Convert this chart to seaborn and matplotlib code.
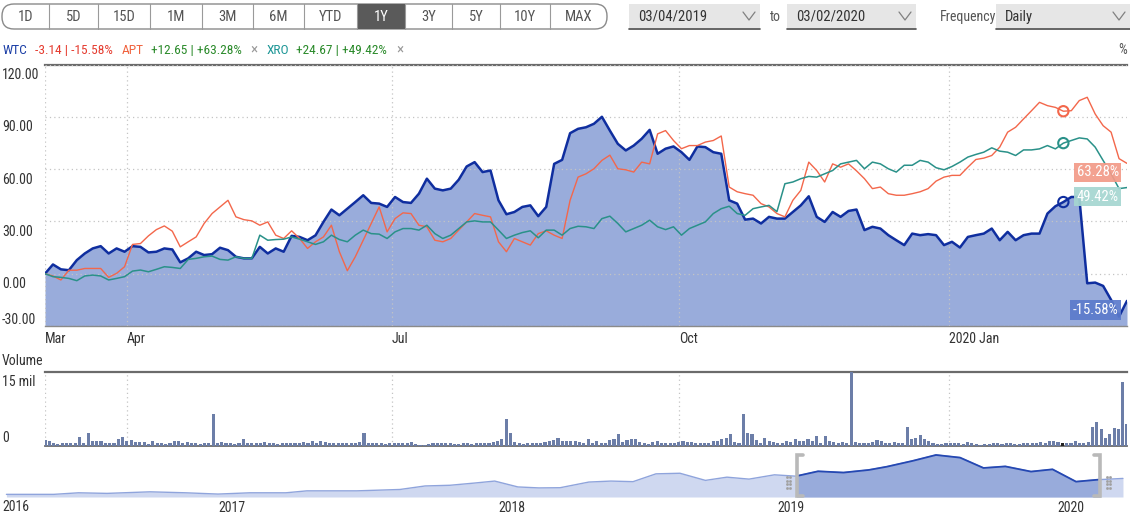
import numpy as np
import matplotlib
matplotlib.use("Agg")
import matplotlib.pyplot as plt
import seaborn as sns
from matplotlib import font_manager
from matplotlib.patches import FancyBboxPatch, Rectangle
from matplotlib.transforms import ScaledTranslation

# ---------------------------------------------------------------- data
# cumulative % change, sampled roughly every second trading day (04/03/2019 - 02/03/2020)
WTC = [0, 5.3, 2.5, 2, 7.8, 11.6, 14.5, 15.8, 11.6, 14.5, 12.6, 15.8, 15.4, 12.2, 12.6, 14.5, 13.9, 6.5,
       8.8, 12.6, 10.7, 11.2, 14.9, 13.5, 9.7, 8.8, 8.8, 15.4, 11.6, 14.5, 12.6, 21.7, 21.1, 19.2,
       22, 29.7, 36.8, 33.5, 37.3, 41.1, 45, 40.6, 40.2, 38.3, 44, 41.1, 40.6, 45.9, 54.5, 48.8, 47.8,
       48.8, 53.9, 61.5, 64, 58.3, 59.2, 42.1, 34.1, 35.4, 38.3, 39.2, 33, 38.3, 63, 65.3, 80.6, 83.1,
       84, 86, 90, 82.1, 74.5, 70.7, 73.5, 77.4, 82.5, 68.8, 71.7, 73, 69.7, 65.3, 73, 72.6, 69.7, 68.8,
       42.1, 40.2, 31, 31.6, 28.8, 32.6, 31.6, 31.6, 35.4, 39.2, 44.4, 32.6, 29.7, 35.4, 32.6, 36,
       36.8, 25, 26.9, 25.9, 22.1, 19.2, 16.4, 23, 22.1, 22.7, 22.1, 16.4, 18.3, 15, 21.1, 22.1, 23,
       25.9, 19.2, 24, 19.2, 22.1, 23, 23, 34.5, 38.7, 41.1, 44, 44, -5.5, -5.1, -7, -15, -24.6, -15.58]
APT = [0, -1.3, -3.6, 2, 2, 3, 3, 3, -2.1, 0.2, 4, 16.8, 17.3, 21.7, 25.3, 27.4, 24.4, 15.4, 18.3,
       21.1, 28.8, 34.5, 38.3, 42.1, 32.6, 31, 30.3, 27.8, 29.7, 22.1, 20.2, 24.6, 20.2, 14.5,
       18.3, 21.1, 27.8, 12.6, 1.7, 9.7, 19.2, 28.8, 38.3, 24, 31.6, 34.9, 34.5, 27.8, 26.9, 19.2, 18.3,
       20.2, 25, 29.7, 34.5, 33.5, 32.6, 18.3, 12.6, 20.2, 18.3, 16.4, 23, 24.6, 22.1, 20.2, 42.1, 55.4,
       57.3, 60.2, 65, 68, 60.2, 59.6, 58.3, 64, 63, 80.2, 82.1, 76.4, 71.7, 73.5, 73.5, 75.5, 76.4, 79,
       49.7, 47, 45.9, 45, 40.2, 38.3, 34.5, 32.6, 42.1, 47.8, 64, 59.2, 52.6, 63, 61.1, 63,
       59, 54.5, 48.8, 49.7, 45.9, 45, 45, 45.9, 47, 48.8, 53.1, 55.4, 56.4, 56.4, 61.1, 65.5, 66.3,
       67.8, 72.6, 81.2, 84, 88.8, 93.5, 98.3, 96.4, 95.4, 93.2, 93.5, 99.3, 101.2, 91.6, 84.9, 81.2, 66, 63.28]
XRO = [0, -1.7, -2.1, -2.7, -4, -1.3, -0.8, -1.3, -3.6, -2.7, -1.7, 1.5, 2.1, 1.1, 2.5, 4, 3.6, 3,
       8.2, 8.8, 9.7, 10.1, 8.2, 7.8, 9.7, 8.8, 8.8, 22.1, 19.2, 19.6, 19.8, 21.1, 19.8, 18.3,
       16.8, 18.3, 22.1, 19.6, 18.3, 22.1, 25, 23, 22.7, 20.2, 24, 25.9, 25.9, 25, 27.8, 23, 20.2, 22.1,
       25.9, 29.7, 30.3, 29.7, 29.7, 25, 20.2, 22.1, 23.6, 24.6, 20.6, 25, 25, 22.1, 25.9, 27.2,
       26.9, 25.9, 31.6, 33, 28.8, 24, 25.9, 27.8, 30.7, 26.9, 25.3, 26.9, 22.1, 25.9, 27.8, 29.7, 34.5,
       37.3, 38.7, 34.5, 33.5, 37.3, 38.3, 39.2, 35.6, 51.6, 52.6, 54.5, 55.8, 55.4, 57.3, 59.2, 63, 64,
       65, 60.2, 64, 63, 60.2, 58.3, 62.2, 62.2, 65, 64, 60.8, 59.6, 61.5, 64, 66.9, 68.4, 69.7, 72.2,
       70.3, 69.7, 67.8, 71, 71, 71.6, 73.5, 71.6, 74.9, 76.4, 77.9, 77.3, 72.6, 65, 57.3, 48.8, 49.42]

# daily WTC volume, millions of shares
VOLUME_MIL = [
    1.2, 1.0, 0.7, 0.4, 0.55, 0.55, 0.7, 0.7, 1.9, 0.7, 2.6, 1.0, 1.0, 1.0, 0.7, 0.55, 0.7, 1.35, 1.9, 1.0,
    1.2, 0.8, 0.8, 0.8, 0.35, 1.0, 0.55, 0.55, 0.4, 0.55, 1.0, 1.0, 0.7, 0.8, 0.7, 0.7, 0.4, 0.55, 0.7, 6.5,
    0.7, 0.8, 0.7, 0.7, 0.4, 0.55, 1.5, 0.55, 0.55, 0.55, 0.55, 0.8, 0.55, 0.55, 0.35, 0.7, 0.55, 0.55, 0.55, 0.7,
    0.8, 0.55, 1.0, 0.7, 1.0, 0.8, 0.7, 0.55, 0.7, 0.7, 0.55, 0.7, 0.7, 0.8, 2.6, 0.7, 0.7, 0.7, 0.55, 0.4,
    0.55, 0.55, 0.55, 0.7, 0.55, 0.8, 0.4, 0.3, 0.3, 0.4, 0.7, 0.55, 0.7, 0.7, 0.55, 0.4, 0.4, 0.55, 0.55, 0.4,
    0.55, 0.55, 0.55, 0.7, 0.8, 1.0, 1.35, 5.4, 2.6, 0.8, 0.7, 0.4, 0.55, 0.55, 0.7, 0.7, 0.8, 0.95, 1.2, 1.7,
    1.0, 1.0, 1.0, 1.0, 0.8, 0.7, 1.5, 0.7, 1.0, 0.55, 0.55, 1.2, 1.35, 2.4, 0.8, 1.2, 1.35, 1.35, 0.8, 0.7,
    0.35, 0.8, 1.0, 0.55, 0.55, 0.7, 0.55, 0.8, 1.0, 0.8, 0.8, 0.7, 0.7, 0.7, 0.55, 1.0, 1.0, 1.35, 1.7, 2.4,
    0.8, 0.7, 6.5,
    2.7, 2.4, 1.2, 0.7, 1.7, 1.0, 0.8, 0.7, 0.55, 1.0, 0.8, 1.35, 1.0, 1.0, 1.35, 1.0, 2.0, 0.7, 2.0, 1.0,
    0.8, 0.55, 0.8, 0.7, 16.0,
    0.8, 0.7, 0.55, 0.55, 0.8, 1.2, 1.0, 0.7, 0.55, 0.8, 0.7, 0.55, 3.8,
    1.5, 1.7, 2.2, 1.5, 1.0, 0.55, 0.35, 0.4, 0.55, 0.7, 0.7, 0.55, 0.4, 0.8, 0.55, 0.4, 0.3, 0.35, 0.4, 0.7,
    0.55, 0.4, 0.55, 0.7, 0.4, 0.4, 0.55, 0.55, 0.7, 0.7, 0.8, 0.7, 1.0, 1.0, 0.8, 0.7, 0.55, 0.7,
    1.0, 0.7, 0.55, 0.8, 3.9, 4.8, 3.4, 1.55, 2.4, 3.7, 3.4, 12.9, 4.4]

# navigator (long-range WTC price, relative units)
NAV_YEAR = [2016.193, 2016.362, 2016.451, 2016.553, 2016.707, 2016.835, 2016.950, 2017.064, 2017.193,
            2017.268, 2017.447, 2017.601, 2017.691, 2017.780, 2017.869, 2017.940, 2018.023, 2018.098,
            2018.174, 2018.277, 2018.356, 2018.435, 2018.517, 2018.603, 2018.694, 2018.771, 2018.850,
            2018.941, 2019.018, 2019.097, 2019.188, 2019.279, 2019.343, 2019.436, 2019.519, 2019.605,
            2019.689, 2019.767, 2019.859, 2019.936, 2020.020, 2020.098, 2020.188]
NAV_PRICE = [2.7, 2.7, 4.3, 3.7, 5.3, 4.3, 3.0, 4.3, 4.3, 6.3, 6.3, 7.7, 11.3, 12.0, 14.3, 16.3, 10.3,
             9.3, 9.5, 15.3, 16.3, 15.7, 23.7, 24.3, 17.0, 20.3, 18.3, 22.7, 21.3, 26.3, 25.0, 27.7,
             31.0, 37.0, 43.0, 40.3, 29.7, 31.3, 26.0, 28.3, 15.7, 17.7, 19.0]
SEL_START, SEL_END = 2019.021, 2020.106
NAV_YEARS = [2017, 2018, 2019, 2020]

MONTH_TICKS = [0, 10.27, 43.58, 79.73, 113.6]      # first trading day of month, in sample units
MONTH_LABELS = ["Mar", "Apr", "Jul", "Oct", "2020 Jan"]
Y_TICKS = [120, 90, 60, 30, 0, -30]
HOVER_IDX = 128
RANGE_BUTTONS = ["1D", "5D", "15D", "1M", "3M", "6M", "YTD", "1Y", "3Y", "5Y", "10Y", "MAX"]
SELECTED_RANGE = "1Y"
DATE_FROM, DATE_TO, FREQ = "03/04/2019", "03/02/2020", "Daily"
LEGEND = [("WTC", "-3.14 | -15.58%", False), ("APT", "+12.65 | +63.28%", True), ("XRO", "+24.67 | +49.42%", True)]

# ---------------------------------------------------------------- style
sns.set_theme(style="white")
available = {f.name for f in font_manager.fontManager.ttflist}
FONT = next((f for f in ["Roboto Condensed", "Liberation Sans Narrow", "Open Sans Condensed",
                         "Roboto", "DejaVu Sans"] if f in available), "DejaVu Sans")
plt.rcParams["font.family"] = [FONT, "DejaVu Sans"]

C_WTC, C_WTC_FILL = "#0f2e9f", "#99acdb"
C_APT, C_XRO = "#f3674b", "#2a9189"
TXT = "#333333"
TICKER_COLORS = {"WTC": "#1b3ea6", "APT": "#f0633f", "XRO": "#1d9696"}

W, H = 1130, 515
fig = plt.figure(figsize=(W / 100, H / 100), dpi=100)
renderer = fig.canvas.get_renderer()


def rect(l, t, r, b):
    return [l / W, 1 - b / H, (r - l) / W, (b - t) / H]


def shift(label, dy_px):
    label.set_transform(label.get_transform() + ScaledTranslation(0, dy_px / 100, fig.dpi_scale_trans))


# ---------------------------------------------------------------- UI layer (pixel coordinates)
ui = fig.add_axes([0, 0, 1, 1], zorder=0)
ui.set_xlim(0, W)
ui.set_ylim(H, 0)
ui.axis("off")

edges = [2, 49, 98, 150, 202, 253, 304, 357, 405, 452, 500, 550, 607]
sel = RANGE_BUTTONS.index(SELECTED_RANGE)
ui.add_patch(FancyBboxPatch((edges[0], 4), edges[-1] - edges[0], 25,
                            boxstyle="round,pad=0,rounding_size=12", fc="white", ec="#8a8a8a", lw=1.0))
ui.add_patch(Rectangle((edges[sel], 4), edges[sel + 1] - edges[sel], 25, fc="#5a5a5a", ec="none"))
for e in edges[1:-1]:
    ui.plot([e, e], [4, 29], color="#9a9a9a", lw=0.8)
for i, lab in enumerate(RANGE_BUTTONS):
    ui.text((edges[i] + edges[i + 1]) / 2, 17, lab, ha="center", va="center", fontsize=10.5,
            color="white" if i == sel else "#555555")


def dropdown(x0, x1, label):
    ui.add_patch(Rectangle((x0, 4), x1 - x0, 24, fc="#e6e6e6", ec="none"))
    ui.plot([x0, x1], [28.5, 28.5], color="#4a4a4a", lw=1.2)
    ui.text(x0 + 9, 16.5, label, ha="left", va="center", fontsize=10.5, color=TXT)
    ui.plot([x1 - 17, x1 - 11, x1 - 5], [12, 20, 12], color="#808080", lw=0.9)


dropdown(629, 760, DATE_FROM)
ui.text(770, 17, "to", ha="left", va="center", fontsize=10, color="#555555")
dropdown(787, 916, DATE_TO)
ui.text(940, 17, "Frequency", ha="left", va="center", fontsize=10, color="#555555")
dropdown(996, 1130, FREQ)


def put(xp, s, c, size=9.6):
    t = ui.text(xp, 50, s, ha="left", va="center", fontsize=size, color=c)
    bb = t.get_window_extent(renderer)
    return xp + bb.width


xp = 3
for tick, change, removable in LEGEND:
    xp = put(xp, tick, TICKER_COLORS[tick]) + 7
    xp = put(xp, change, "#e53b2f" if change.startswith("-") else "#2a8a2a") + 9
    if removable:
        xp = put(xp, "×", "#9a9a9a", 11) + 9
ui.text(1127, 50, "%", ha="right", va="center", fontsize=10, color="#555555")
ui.text(2, 361, "Volume", ha="left", va="center", fontsize=10, color=TXT)
ui.text(2, 507, "2016", ha="left", va="center", fontsize=10, color=TXT)

# ---------------------------------------------------------------- main chart
ax = fig.add_axes(rect(45, 64.5, 1127, 326), zorder=2)
ax.set_facecolor("none")
x = np.arange(len(WTC))
ax.fill_between(x, WTC, -30, color=C_WTC_FILL, lw=0, zorder=1)
sns.lineplot(x=x, y=WTC, ax=ax, color=C_WTC, lw=1.8, zorder=3)
sns.lineplot(x=x, y=APT, ax=ax, color=C_APT, lw=1.0, zorder=4)
sns.lineplot(x=x, y=XRO, ax=ax, color=C_XRO, lw=1.1, zorder=5)
ax.set_xlim(0, len(WTC) - 1)
ax.set_ylim(-30, 120)
ax.set_yticks(Y_TICKS, [f"{v:.2f}" for v in Y_TICKS])
ax.set_xticks(MONTH_TICKS, MONTH_LABELS)
ax.set_axisbelow(False)
ax.grid(True, color="#c4c4c4", linestyle=(0, (1, 2.5)), lw=0.9, zorder=2)
for s in ["left", "right"]:
    ax.spines[s].set_visible(False)
ax.spines["top"].set_color("#6b6b6b")
ax.spines["top"].set_linewidth(1.6)
ax.spines["bottom"].set_color("#8a8a8a")
ax.spines["bottom"].set_linewidth(1.0)
ax.tick_params(axis="both", length=0, labelsize=10, colors=TXT)
ax.tick_params(axis="y", pad=31)
ax.tick_params(axis="x", pad=4)
ax.set_xlabel("")
ax.set_ylabel("")
for lab in ax.get_yticklabels():
    lab.set_horizontalalignment("left")
    shift(lab, 8 if lab.get_text() == f"{Y_TICKS[-1]:.2f}" else -9)
for lab in ax.get_xticklabels():
    lab.set_horizontalalignment("left")

for series, c in [(APT, C_APT), (XRO, C_XRO), (WTC, C_WTC)]:
    ax.scatter([x[HOVER_IDX]], [series[HOVER_IDX]], s=55, facecolor="none", edgecolor=c, lw=1.5, zorder=7)

for series, fc in [(APT, "#f39a88"), (XRO, "#a5d6d1"), (WTC, "#5b7acb")]:
    ax.annotate(f"{series[-1]:.2f}%", xy=(x[-1], series[-1]), xytext=(-6, -1.5), textcoords="offset points",
                ha="right", va="top", fontsize=10.5, color="white", zorder=8,
                bbox=dict(boxstyle="square,pad=0.18", fc=fc, ec="none", alpha=0.92))

# ---------------------------------------------------------------- volume
axv = fig.add_axes(rect(45, 372, 1127, 446), zorder=2)
axv.set_facecolor("none")
vx = np.linspace(0, len(WTC) - 1, len(VOLUME_MIL))
sns.barplot(x=vx, y=VOLUME_MIL, native_scale=True, color="#6c7ea8", saturation=1, width=0.8,
            errorbar=None, ax=axv, zorder=3, linewidth=0, edgecolor="none")
step = vx[1] - vx[0]
for p, xc in zip(axv.patches, vx):
    p.set_width(step * 0.72)
    p.set_x(xc - step * 0.36)
    if abs(xc - HOVER_IDX) < step / 2:
        p.set_facecolor("#222222")
axv.set_xlim(0, len(WTC) - 1)
axv.set_ylim(0, 15)
axv.set_xticks(MONTH_TICKS, [""] * len(MONTH_TICKS))
axv.set_yticks([0, 15], ["0", "15 mil"])
axv.grid(True, axis="x", color="#c4c4c4", linestyle=(0, (1, 2.5)), lw=0.9)
axv.grid(False, axis="y")
for s in ["left", "right"]:
    axv.spines[s].set_visible(False)
axv.spines["top"].set_color("#6b6b6b")
axv.spines["top"].set_linewidth(1.6)
axv.spines["bottom"].set_color("#6b6b6b")
axv.spines["bottom"].set_linewidth(1.3)
axv.tick_params(axis="both", length=0, labelsize=10, colors=TXT)
axv.tick_params(axis="y", pad=31)
axv.set_xlabel("")
axv.set_ylabel("")
for lab in axv.get_yticklabels():
    lab.set_horizontalalignment("left")
    shift(lab, 9 if lab.get_text() == "0" else -9)

# ---------------------------------------------------------------- navigator
axn = fig.add_axes(rect(0, 454, 1128, 497), zorder=2)
axn.set_facecolor("none")
axn.fill_between(NAV_YEAR, NAV_PRICE, 0, color="#cfd8f0", lw=0)
sns.lineplot(x=NAV_YEAR, y=NAV_PRICE, ax=axn, color="#8fa4dc", lw=1.0)
clip = Rectangle((SEL_START, -5), SEL_END - SEL_START, 60, transform=axn.transData)
f2 = axn.fill_between(NAV_YEAR, NAV_PRICE, 0, color="#98abdb", lw=0)
l2 = axn.plot(NAV_YEAR, NAV_PRICE, color="#2548b2", lw=1.3)[0]
f2.set_clip_path(clip)
l2.set_clip_path(clip)
tk = 0.022
for xs, d in [(SEL_START, 1), (SEL_END, -1)]:
    axn.plot([xs + d * tk, xs, xs, xs + d * tk], [43, 43, 0.8, 0.8], color="#b9b9b9", lw=2.6,
             solid_joinstyle="miter", clip_on=False, zorder=5)
    gx = xs - d * 0.03
    for dx in (-0.004, 0.004):
        axn.plot([gx + dx] * 4, [20, 16.5, 13, 9.5], ls="none", marker="s", ms=0.9, color="#a0a0a0", zorder=5)
axn.set_xlim(2016.170, 2020.206)
axn.set_ylim(0, 44)
axn.set_xticks(NAV_YEARS, [str(yr) for yr in NAV_YEARS])
axn.set_yticks([])
for s in axn.spines.values():
    s.set_visible(False)
axn.tick_params(axis="x", length=0, labelsize=10, colors=TXT, pad=3)
axn.set_xlabel("")
axn.set_ylabel("")

fig.savefig("out.png", dpi=100)
